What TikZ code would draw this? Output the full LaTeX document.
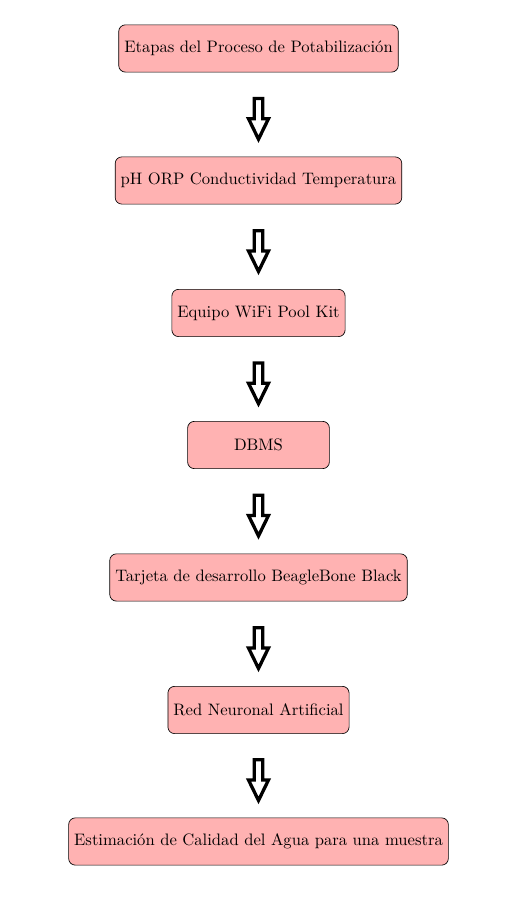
\documentclass[tikz,border=0pt]{standalone}
\usetikzlibrary{shapes.arrows}

\tikzset{etapa/.style = {rectangle, rounded corners, draw, fill = red!30,
                         minimum width = 3cm, minimum height = 1cm},
         flecha/.style = {single arrow, draw, fill = white, line width = 2pt,
                          shape border rotate = 270, minimum height = 0.86cm,
                          inner sep = 0.055cm, single arrow head extend = 0.12cm,
                          single arrow tip angle = 52},
        }

\begin{document}
\begin{tikzpicture}
\useasboundingbox (0,0) rectangle (11.153,-19.323);
\node[etapa] at (5.471,-1.026) (etapas) {Etapas del Proceso de Potabilización};
\node[etapa] at (5.471,-3.820) (param) {pH ORP Conductividad Temperatura};
\node[etapa] at (5.471,-6.624) (equipo) {Equipo WiFi Pool Kit};
\node[etapa] at (5.471,-9.418) (dbms) {DBMS};
\node[etapa] at (5.471,-12.222) (tarjeta) {Tarjeta de desarrollo BeagleBone Black};
\node[etapa] at (5.471,-15.026) (red) {Red Neuronal Artificial};
\node[etapa] at (5.471,-17.810) (estim) {Estimación de Calidad del Agua para una muestra};
\path (etapas) -- node[flecha] {} (param);
\path (param) -- node[flecha] {} (equipo);
\path (equipo) -- node[flecha] {} (dbms);
\path (dbms) -- node[flecha] {} (tarjeta);
\path (tarjeta) -- node[flecha] {} (red);
\path (red) -- node[flecha] {} (estim);
\end{tikzpicture}
\end{document}
